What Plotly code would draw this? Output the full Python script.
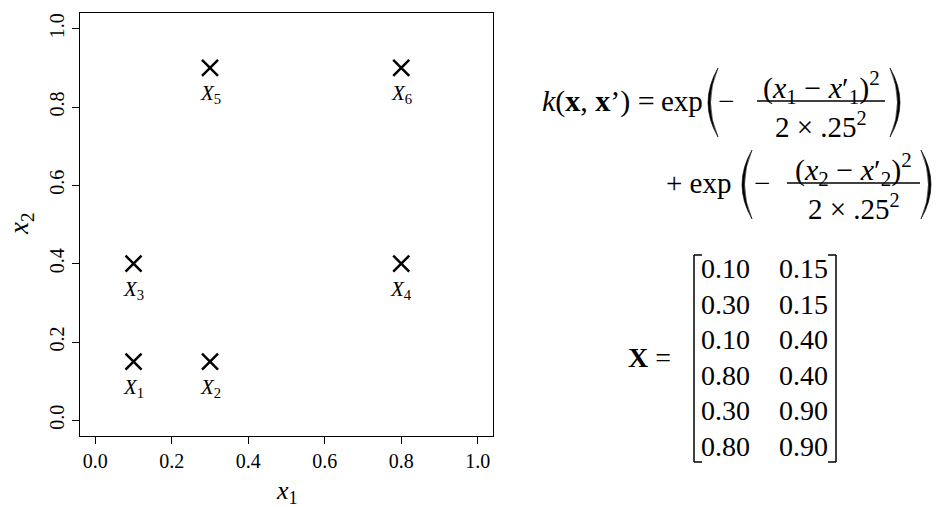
import plotly.graph_objs as go

# points du plan (x1, x2) et leurs noms
x1_values = [0.10, 0.30, 0.10, 0.80, 0.30, 0.80]
x2_values = [0.15, 0.15, 0.40, 0.40, 0.90, 0.90]
point_names = ["1", "2", "3", "4", "5", "6"]
tick_values = [0.0, 0.2, 0.4, 0.6, 0.8, 1.0]

W, H = 938, 507
L, R, T, B = 80, 493, 13, 436
SERIF = "Liberation Serif"


def px(x):
    return (x - L) / (R - L)


def py(y):
    return (B - y) / (B - T)


def text(s, x, y, size=28, xanchor="center", yanchor="middle", angle=0):
    return dict(text=s, x=px(x), y=py(y), xref="paper", yref="paper",
                xanchor=xanchor, yanchor=yanchor, showarrow=False, textangle=angle,
                font=dict(family=SERIF, size=size, color="black"))


def paren(x_end, x_mid_out, x_mid_in, y_top, y_bot):
    # parenthese en croissant plein (deux courbes de Bezier)
    ym = (y_top + y_bot) / 2
    c_out = 2 * x_mid_out - x_end
    c_in = 2 * x_mid_in - x_end
    path = "M {},{} Q {},{} {},{} Q {},{} {},{} Z".format(
        px(x_end), py(y_top), px(c_out), py(ym), px(x_end), py(y_bot),
        px(c_in), py(ym), px(x_end), py(y_top))
    return dict(type="path", path=path, xref="paper", yref="paper",
                fillcolor="black", line=dict(color="black", width=0.6))


def hline(x0, x1, y, width=1.3):
    return dict(type="line", x0=px(x0), x1=px(x1), y0=py(y), y1=py(y),
                xref="paper", yref="paper", line=dict(color="black", width=width))


def vline(x, y0, y1, width=1.5):
    return dict(type="line", x0=px(x), x1=px(x), y0=py(y0), y1=py(y1),
                xref="paper", yref="paper", line=dict(color="black", width=width))


scatter = go.Scatter(
    x=x1_values,
    y=x2_values,
    mode="markers",
    marker=dict(symbol="x-thin-open", size=16, color="black",
                line=dict(color="black", width=2.5)),
    hoverinfo="skip",
    showlegend=False,
)

annotations = []
shapes = []

# noms des points sous les croix
for a, b, n in zip(x1_values, x2_values, point_names):
    annotations.append(dict(text="<i>X</i><sub>%s</sub>" % n, x=a, y=b,
                            xref="x", yref="y", yshift=-26, showarrow=False,
                            font=dict(family=SERIF, size=21, color="black")))

# titres des axes
annotations.append(text("<i>x</i><sub>1</sub>", 287, 492, size=26))
annotations.append(text("<i>x</i><sub>2</sub>", 21, 224, size=27, angle=-90))

# k(x, x') = exp( -(x1 - x1')^2 / (2 x .25^2) ) + exp( ... )
numerators = ["(<i>x</i><sub>1</sub> − <i>x</i>′<sub>1</sub>)<sup>2</sup>",
              "(<i>x</i><sub>2</sub> − <i>x</i>′<sub>2</sub>)<sup>2</sup>"]
denominator = "2 × .25<sup>2</sup>"

annotations.append(text("<i>k</i>(<b>x</b>, <b>x</b>’) =", 657, 101, size=30, xanchor="right"))
annotations.append(text("exp", 659, 101, size=29, xanchor="left"))
annotations.append(text("+ exp", 733, 183, size=29, xanchor="right"))

rows = [
    dict(lp=718, minus=726, fx0=757, fx1=885, rp=890, y=101),
    dict(lp=752, minus=762, fx0=787, fx1=920, rp=921, y=183),
]
for i, r in enumerate(rows):
    y = r["y"]
    shapes.append(paren(r["lp"], r["lp"] - 10, r["lp"] - 7.5, y - 33, y + 36))
    shapes.append(paren(r["rp"], r["rp"] + 10, r["rp"] + 7.5, y - 33, y + 36))
    annotations.append(text("−", r["minus"], y, size=29))
    cx = (r["fx0"] + r["fx1"]) / 2
    shapes.append(hline(r["fx0"], r["fx1"], y))
    annotations.append(text(numerators[i], cx, y - 14, size=30))
    annotations.append(text(denominator, cx, y + 4, size=29, yanchor="top"))

# X = [ matrice ]
annotations.append(text("<b>X</b> =", 673, 357, xanchor="right"))
m_top, m_bot, m_left, m_right = 255, 462, 694, 836
shapes.append(vline(m_left, m_top, m_bot))
shapes.append(hline(m_left, m_left + 8, m_top, 1.5))
shapes.append(hline(m_left, m_left + 8, m_bot, 1.5))
shapes.append(vline(m_right, m_top, m_bot))
shapes.append(hline(m_right - 8, m_right, m_top, 1.5))
shapes.append(hline(m_right - 8, m_right, m_bot, 1.5))
for i, (a, b) in enumerate(zip(x1_values, x2_values)):
    yr = 268.5 + 35.6 * i
    annotations.append(text("%.2f" % a, 725, yr, size=28))
    annotations.append(text("%.2f" % b, 803, yr, size=28))

axis_common = dict(
    range=[-0.04, 1.04],
    tickvals=tick_values,
    ticktext=["%.1f" % v for v in tick_values],
    ticks="outside",
    ticklen=7,
    tickwidth=1,
    tickcolor="black",
    showline=True,
    mirror=True,
    linecolor="black",
    linewidth=1,
    showgrid=False,
    zeroline=False,
    tickfont=dict(family=SERIF, size=20, color="black"),
)

layout = go.Layout(
    width=W,
    height=H,
    margin=dict(l=L, r=W - R, t=T, b=H - B, autoexpand=False),
    paper_bgcolor="white",
    plot_bgcolor="white",
    xaxis=axis_common,
    yaxis=dict(axis_common, tickangle=-90),
    annotations=annotations,
    shapes=shapes,
)

fig = go.Figure(data=[scatter], layout=layout)
fig.write_html("out.html", config={"displayModeBar": False},
               post_script="document.body.style.margin = '0px';")
